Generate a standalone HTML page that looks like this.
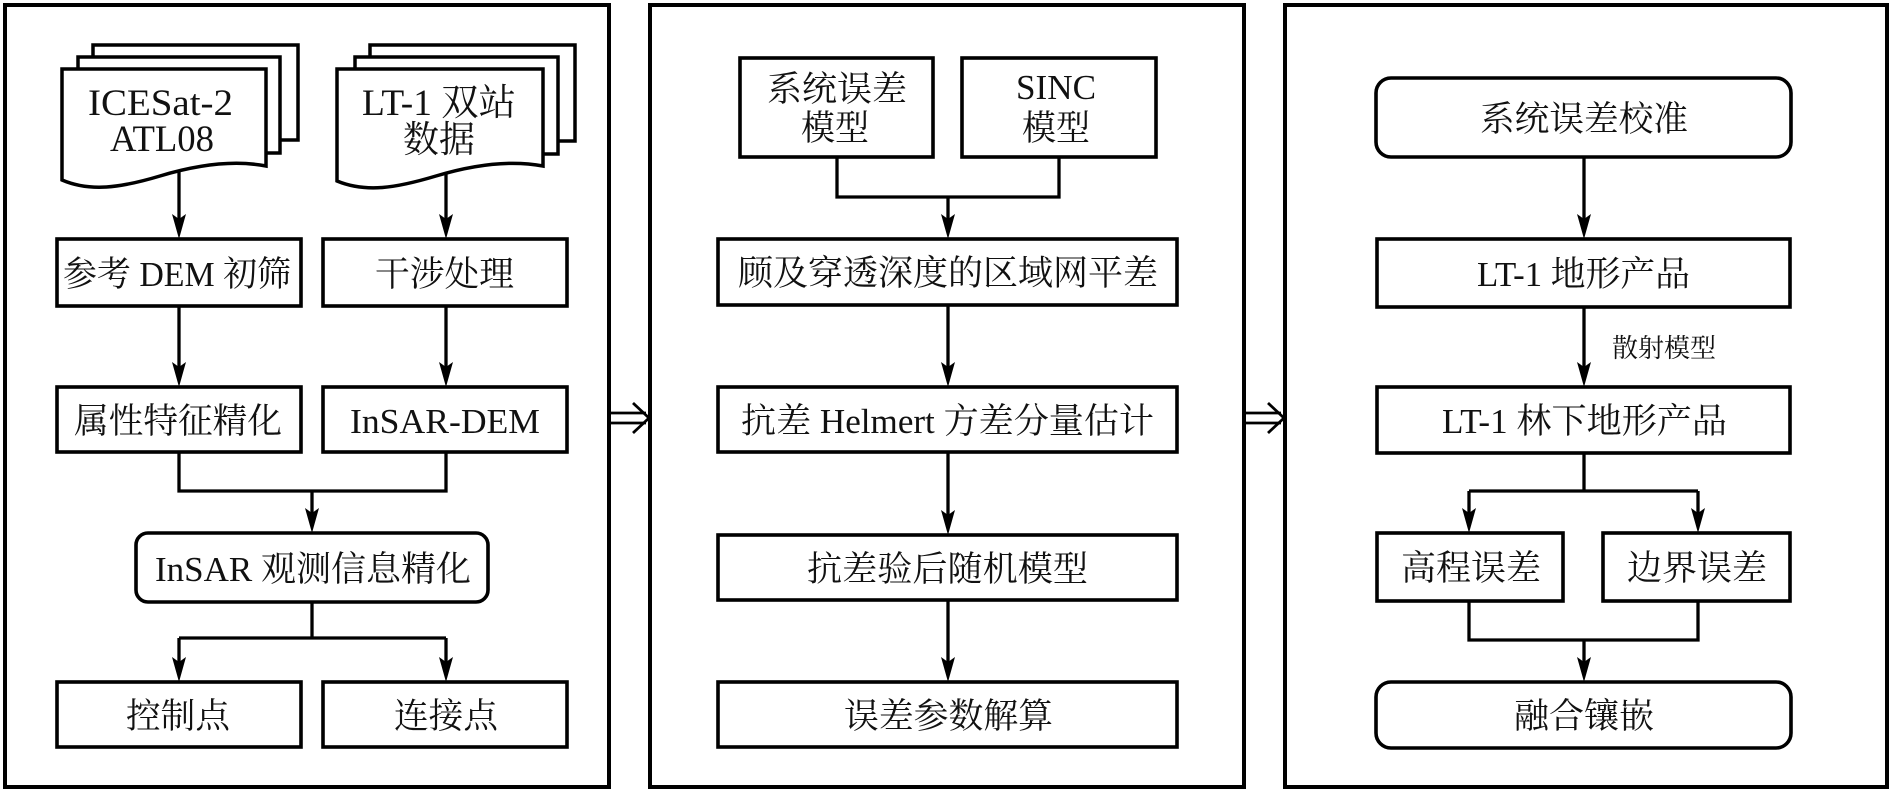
<!DOCTYPE html>
<html>
<head>
<meta charset="utf-8">
<style>
html,body{margin:0;padding:0;background:#fff;}
svg{display:block;}
text{font-family:"Liberation Serif","Noto Serif CJK SC",serif;font-size:35px;fill:#111;}
.sm{font-size:26px;}
.dt{font-size:37px;}
</style>
</head>
<body>
<svg width="1892" height="793" viewBox="0 0 1892 793" xmlns="http://www.w3.org/2000/svg">
<rect x="0" y="0" width="1892" height="793" fill="#fff"/>

<!-- Panels -->
<g fill="none" stroke="#000" stroke-width="4">
  <rect x="5" y="5" width="604" height="782"/>
  <rect x="650" y="5" width="594" height="782"/>
  <rect x="1285" y="5" width="602" height="782"/>
</g>

<!-- Double arrows between panels -->
<g fill="none" stroke="#000" stroke-width="2.8">
  <line x1="610" y1="413" x2="646" y2="413"/>
  <line x1="610" y1="423" x2="646" y2="423"/>
  <polyline points="633,403 649,418 633,433"/>
  <line x1="1245" y1="413" x2="1281" y2="413"/>
  <line x1="1245" y1="423" x2="1281" y2="423"/>
  <polyline points="1268,403 1284,418 1268,433"/>
</g>

<!-- Connectors -->
<g fill="none" stroke="#000" stroke-width="3.3">
  <!-- Panel 1 -->
  <line x1="179" y1="170" x2="179" y2="225"/>
  <line x1="446" y1="172" x2="446" y2="225"/>
  <line x1="179" y1="306" x2="179" y2="373"/>
  <line x1="446" y1="306" x2="446" y2="373"/>
  <polyline points="179,452 179,491 446,491 446,452"/>
  <line x1="312" y1="491" x2="312" y2="519"/>
  <line x1="312" y1="602" x2="312" y2="638"/>
  <line x1="179" y1="638" x2="446" y2="638"/>
  <line x1="179" y1="638" x2="179" y2="668"/>
  <line x1="446" y1="638" x2="446" y2="668"/>
  <!-- Panel 2 -->
  <polyline points="837,157 837,197 1059,197 1059,157"/>
  <line x1="948" y1="197" x2="948" y2="225"/>
  <line x1="948" y1="305" x2="948" y2="373"/>
  <line x1="948" y1="452" x2="948" y2="521"/>
  <line x1="948" y1="600" x2="948" y2="668"/>
  <!-- Panel 3 -->
  <line x1="1584" y1="157" x2="1584" y2="225"/>
  <line x1="1584" y1="307" x2="1584" y2="373"/>
  <line x1="1584" y1="453" x2="1584" y2="491"/>
  <line x1="1469" y1="491" x2="1698" y2="491"/>
  <line x1="1469" y1="491" x2="1469" y2="519"/>
  <line x1="1698" y1="491" x2="1698" y2="519"/>
  <polyline points="1469,601 1469,640 1698,640 1698,601"/>
  <line x1="1584" y1="640" x2="1584" y2="668"/>
</g>

<!-- Arrowheads -->
<g fill="#000" stroke="none">
  <polygon points="172,214 179,239 186,214 179,219"/>
  <polygon points="439,214 446,239 453,214 446,219"/>
  <polygon points="172,362 179,387 186,362 179,367"/>
  <polygon points="439,362 446,387 453,362 446,367"/>
  <polygon points="305,508 312,533 319,508 312,513"/>
  <polygon points="172,657 179,682 186,657 179,662"/>
  <polygon points="439,657 446,682 453,657 446,662"/>

  <polygon points="941,214 948,239 955,214 948,219"/>
  <polygon points="941,362 948,387 955,362 948,367"/>
  <polygon points="941,510 948,535 955,510 948,515"/>
  <polygon points="941,657 948,682 955,657 948,662"/>

  <polygon points="1577,214 1584,239 1591,214 1584,219"/>
  <polygon points="1577,362 1584,387 1591,362 1584,367"/>
  <polygon points="1462,508 1469,533 1476,508 1469,513"/>
  <polygon points="1691,508 1698,533 1705,508 1698,513"/>
  <polygon points="1577,657 1584,682 1591,657 1584,662"/>
</g>

<!-- Document stacks -->
<g fill="#fff" stroke="#000" stroke-width="3.5">
  <rect x="93" y="45" width="205" height="95"/>
  <rect x="78" y="57" width="202" height="96"/>
  <path d="M62,69 H266 V166 C235,160 200,164 160,176 C120,188 90,192 62,180 Z"/>

  <rect x="370" y="45" width="205" height="96"/>
  <rect x="355" y="57" width="203" height="97"/>
  <path d="M337,69 H543 V166 C511,160 476,164 436,176 C396,188 366,193 337,181 Z"/>
</g>

<!-- Boxes -->
<g fill="#fff" stroke="#000" stroke-width="3.6">
  <!-- Panel 1 -->
  <rect x="57" y="239" width="244" height="67"/>
  <rect x="323" y="239" width="244" height="67"/>
  <rect x="57" y="387" width="244" height="65"/>
  <rect x="323" y="387" width="244" height="65"/>
  <rect x="136" y="533" width="352" height="69" rx="12" ry="12"/>
  <rect x="57" y="682" width="244" height="65"/>
  <rect x="323" y="682" width="244" height="65"/>
  <!-- Panel 2 -->
  <rect x="740" y="58" width="193" height="99"/>
  <rect x="962" y="58" width="194" height="99"/>
  <rect x="718" y="239" width="459" height="66"/>
  <rect x="718" y="387" width="459" height="65"/>
  <rect x="718" y="535" width="459" height="65"/>
  <rect x="718" y="682" width="459" height="65"/>
  <!-- Panel 3 -->
  <rect x="1376" y="78" width="415" height="79" rx="15" ry="15"/>
  <rect x="1377" y="239" width="413" height="68"/>
  <rect x="1377" y="387" width="413" height="66"/>
  <rect x="1377" y="533" width="186" height="68"/>
  <rect x="1603" y="533" width="187" height="68"/>
  <rect x="1376" y="682" width="415" height="66" rx="15" ry="15"/>
</g>

<!-- Texts -->
<g>
  <!-- Panel 1 docs -->
  <text class="dt" x="88" y="115" textLength="145" lengthAdjust="spacingAndGlyphs">ICESat-2</text>
  <text class="dt" x="110" y="151" textLength="104" lengthAdjust="spacingAndGlyphs">ATL08</text>
  <text class="dt" x="362" y="115" textLength="154" lengthAdjust="spacingAndGlyphs">LT-1 双站</text>
  <text class="dt" x="403" y="152" textLength="72" lengthAdjust="spacingAndGlyphs">数据</text>

  <text x="63" y="286" textLength="228" lengthAdjust="spacingAndGlyphs">参考 DEM 初筛</text>
  <text x="375" y="286" textLength="139" lengthAdjust="spacingAndGlyphs">干涉处理</text>
  <text x="74" y="433" textLength="208" lengthAdjust="spacingAndGlyphs">属性特征精化</text>
  <text x="350" y="433" textLength="190" lengthAdjust="spacingAndGlyphs">InSAR-DEM</text>
  <text x="155" y="581" textLength="316" lengthAdjust="spacingAndGlyphs">InSAR 观测信息精化</text>
  <text x="126" y="728" textLength="104" lengthAdjust="spacingAndGlyphs">控制点</text>
  <text x="394" y="728" textLength="104" lengthAdjust="spacingAndGlyphs">连接点</text>

  <!-- Panel 2 -->
  <text x="767" y="101" textLength="140" lengthAdjust="spacingAndGlyphs">系统误差</text>
  <text x="801" y="140" textLength="68" lengthAdjust="spacingAndGlyphs">模型</text>
  <text x="1016" y="99" textLength="80" lengthAdjust="spacingAndGlyphs">SINC</text>
  <text x="1022" y="140" textLength="68" lengthAdjust="spacingAndGlyphs">模型</text>
  <text x="738" y="285" textLength="420" lengthAdjust="spacingAndGlyphs">顾及穿透深度的区域网平差</text>
  <text x="741" y="433" textLength="413" lengthAdjust="spacingAndGlyphs">抗差 Helmert 方差分量估计</text>
  <text x="807" y="581" textLength="281" lengthAdjust="spacingAndGlyphs">抗差验后随机模型</text>
  <text x="844" y="728" textLength="209" lengthAdjust="spacingAndGlyphs">误差参数解算</text>

  <!-- Panel 3 -->
  <text x="1480" y="131" textLength="208" lengthAdjust="spacingAndGlyphs">系统误差校准</text>
  <text x="1477" y="286" textLength="213" lengthAdjust="spacingAndGlyphs">LT-1 地形产品</text>
  <text class="sm" x="1612" y="357" textLength="104" lengthAdjust="spacingAndGlyphs">散射模型</text>
  <text x="1442" y="433" textLength="285" lengthAdjust="spacingAndGlyphs">LT-1 林下地形产品</text>
  <text x="1401" y="580" textLength="140" lengthAdjust="spacingAndGlyphs">高程误差</text>
  <text x="1627" y="580" textLength="140" lengthAdjust="spacingAndGlyphs">边界误差</text>
  <text x="1514" y="728" textLength="140" lengthAdjust="spacingAndGlyphs">融合镶嵌</text>
</g>
</svg>
</body>
</html>
